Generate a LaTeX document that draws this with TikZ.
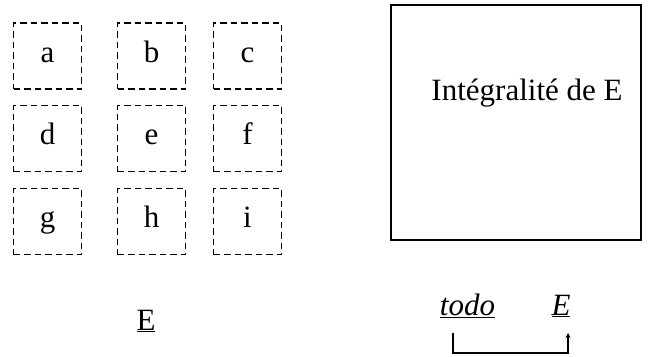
\documentclass[tikz,border=0pt]{standalone}
\usepackage{fontspec}
\setmainfont{Liberation Serif}
\usetikzlibrary{arrows.meta,calc}
\begin{document}
\begin{tikzpicture}[x=1pt,y=-1pt,
  cell/.style={draw, dashed, dash pattern=on 6.5pt off 4pt, line width=1.1pt, minimum width=68pt, minimum height=66pt, inner sep=0pt, text height=20pt, text depth=8pt, font=\fontsize{31}{36}\selectfont},
  lbl/.style={inner sep=0pt, font=\fontsize{31}{36}\selectfont},
  conn/.style={line width=1.1pt}]
\useasboundingbox (0,0) rectangle (652,356);
\node[cell] (a) at (47.5,56) {a};
\node[cell] (b) at (151.5,56) {b};
\node[cell] (c) at (247.5,56) {c};
\node[cell] (d) at (47.5,138.5) {d};
\node[cell] (e) at (151.5,138.5) {e};
\node[cell] (f) at (247.5,138.5) {f};
\node[cell] (g) at (47.5,221.5) {g};
\node[cell] (h) at (151.5,221.5) {h};
\node[cell] (i) at (247.5,221.5) {i};
\node[draw, line width=1.4pt, minimum width=250pt, minimum height=235pt, inner sep=0pt] (whole) at (516,122.5) {};
\node[lbl, anchor=base] (wtext) at (527,100) {Intégralité de E};
\node[lbl, anchor=base] (E) at (146,330) {\underline{E}};
\node[lbl, anchor=base] (todo) at (467.5,315) {\underline{\itshape todo}};
\node[lbl, anchor=base] (E2) at (561,315) {\underline{\itshape E}};
\coordinate (p1) at (453,333);
\coordinate (p2) at (568,333);
\draw[conn, -{Stealth[length=5pt,width=5pt]}] (p1) -- (453,353) -| (p2);
\end{tikzpicture}
\end{document}
